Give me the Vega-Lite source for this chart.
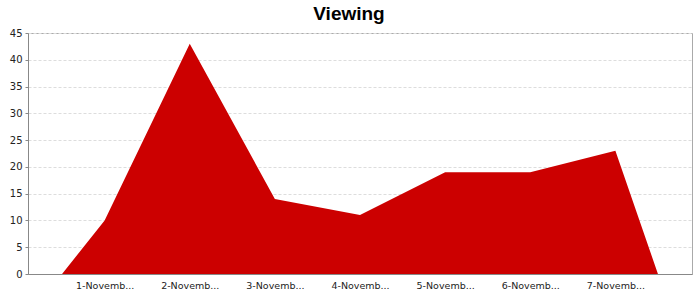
{
  "$schema": "https://vega.github.io/schema/vega-lite/v6.json",
  "autosize": {"type": "none"},
  "width": 664,
  "height": 241,
  "padding": {"left": 28, "top": 33, "right": 8, "bottom": 26},
  "background": "white",
  "title": {
    "text": "Viewing",
    "font": "Liberation Sans",
    "fontSize": 19,
    "fontWeight": "bold",
    "color": "#000000",
    "anchor": "middle",
    "dx": -11,
    "offset": 4
  },
  "config": {
    "view": {"stroke": "#aaaaaa", "strokeWidth": 1}
  },
  "data": {
    "values": [
      {"day": 0.5, "views": 0},
      {"day": 1, "views": 10},
      {"day": 2, "views": 43},
      {"day": 3, "views": 14},
      {"day": 4, "views": 11},
      {"day": 5, "views": 19},
      {"day": 6, "views": 19},
      {"day": 7, "views": 23},
      {"day": 7.5, "views": 0}
    ]
  },
  "mark": {"type": "area", "color": "#cc0000", "interpolate": "linear"},
  "encoding": {
    "x": {
      "field": "day",
      "type": "quantitative",
      "scale": {"domain": [0.1, 7.9], "nice": false, "zero": false},
      "axis": {
        "title": null,
        "values": [1, 2, 3, 4, 5, 6, 7],
        "labelExpr": "datum.value + '-Novemb...'",
        "grid": false,
        "ticks": false,
        "domainColor": "#888888",
        "labelFont": "DejaVu Sans",
        "labelFontSize": 9.5,
        "labelColor": "#222222",
        "labelPadding": 6
      }
    },
    "y": {
      "field": "views",
      "type": "quantitative",
      "scale": {"domain": [0, 45], "nice": false},
      "axis": {
        "title": null,
        "values": [0, 5, 10, 15, 20, 25, 30, 35, 40, 45],
        "grid": true,
        "gridColor": "#dddddd",
        "gridDash": [3, 2],
        "domainColor": "#888888",
        "tickColor": "#888888",
        "tickSize": 3,
        "labelFont": "DejaVu Sans",
        "labelFontSize": 10,
        "labelColor": "#222222",
        "labelPadding": 3
      }
    }
  }
}
